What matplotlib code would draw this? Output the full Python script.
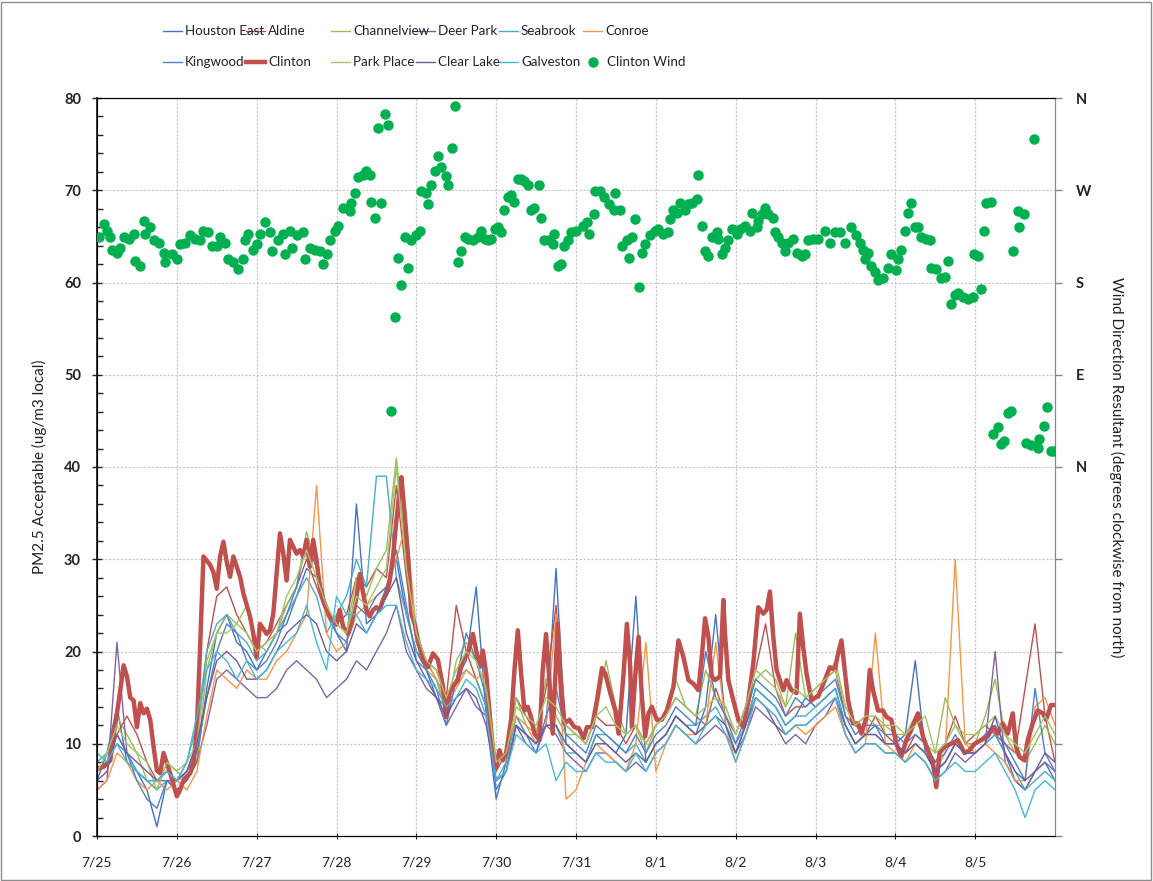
import matplotlib
matplotlib.use("Agg")
import matplotlib.pyplot as plt
from matplotlib.lines import Line2D
from matplotlib.patches import Rectangle

plt.rcParams['font.family'] = ['Lato', 'DejaVu Sans']

W, H = 1153, 881

# ---------------- data ----------------
DAY_LABELS = ['7/25', '7/26', '7/27', '7/28', '7/29', '7/30', '7/31',
              '8/1', '8/2', '8/3', '8/4', '8/5']
DAY_HOURS = [0, 24, 48, 72, 96, 120, 144, 168, 192, 216, 240, 264]

# 3-hourly readings (hours since 7/25 00:00)
HOURS3 = list(range(0, 289, 3))

houston_east = [6, 9, 14, 8, 7, 5, 1, 6,
                5, 6, 8, 16, 22, 24, 21, 20,
                18, 20, 22, 23, 26, 29, 28, 24,
                22, 20, 36, 23, 24, 27, 30, 24,
                20, 18, 15, 14, 17, 19, 27, 13,
                4, 8, 13, 11, 10, 12, 29, 10,
                9, 8, 11, 10, 9, 11, 26, 8,
                10, 11, 13, 12, 11, 14, 24, 12,
                9, 12, 16, 15, 14, 12, 13, 15,
                14, 15, 16, 12, 10, 11, 12, 10,
                10, 11, 19, 9, 7, 8, 10, 9,
                9, 10, 11, 9, 6, 5, 7, 8,
                6]
aldine = [7, 8, 11, 13, 11, 8, 6, 7,
          6, 7, 10, 20, 26, 27, 24, 22,
          20, 21, 23, 25, 27, 30, 27, 24,
          23, 24, 28, 27, 29, 28, 38, 28,
          21, 19, 18, 15, 25, 20, 17, 14,
          7, 9, 15, 13, 11, 16, 25, 12,
          11, 10, 13, 12, 12, 10, 12, 10,
          12, 13, 15, 14, 13, 12, 16, 13,
          11, 14, 18, 23, 16, 13, 14, 14,
          15, 17, 18, 13, 12, 11, 13, 11,
          10, 9, 11, 10, 8, 10, 13, 10,
          11, 12, 11, 10, 9, 16, 23, 13,
          8]
channelview = [7, 8, 13, 11, 9, 6, 5, 8,
               7, 6, 8, 18, 22, 24, 23, 25,
               21, 20, 22, 25, 27, 33, 29, 24,
               23, 22, 28, 26, 29, 31, 41, 30,
               21, 18, 17, 13, 19, 21, 19, 16,
               8, 9, 15, 12, 11, 17, 13, 11,
               11, 10, 13, 19, 14, 11, 12, 9,
               12, 13, 17, 14, 13, 18, 15, 14,
               11, 14, 17, 18, 17, 14, 22, 15,
               16, 17, 19, 14, 12, 13, 12, 12,
               11, 11, 13, 10, 9, 15, 12, 10,
               10, 13, 17, 11, 9, 8, 10, 12,
               10]
deer_park = [5, 6, 21, 9, 7, 6, 6, 6,
             5, 6, 8, 12, 17, 18, 17, 16,
             15, 15, 16, 18, 19, 18, 17, 15,
             16, 17, 19, 18, 20, 22, 25, 20,
             18, 16, 15, 12, 14, 16, 14, 13,
             6, 7, 12, 10, 9, 12, 11, 9,
             8, 7, 9, 9, 8, 7, 8, 7,
             9, 10, 12, 11, 10, 11, 12, 11,
             9, 11, 14, 13, 12, 10, 11, 10,
             12, 13, 15, 11, 9, 10, 10, 9,
             9, 8, 9, 8, 6, 7, 9, 8,
             9, 10, 20, 8, 6, 5, 7, 8,
             7]
seabrook = [8, 9, 11, 9, 7, 6, 5, 6,
            6, 8, 12, 20, 23, 24, 22, 21,
            19, 20, 22, 24, 26, 28, 26, 22,
            24, 26, 30, 27, 39, 39, 28, 24,
            20, 19, 17, 15, 17, 18, 17, 14,
            6, 8, 13, 11, 10, 12, 12, 9,
            9, 8, 11, 11, 10, 9, 10, 8,
            10, 11, 13, 12, 12, 13, 14, 12,
            10, 12, 16, 15, 14, 12, 13, 13,
            14, 15, 16, 12, 10, 11, 11, 10,
            10, 9, 10, 9, 7, 8, 10, 9,
            9, 10, 11, 9, 7, 5, 6, 7,
            6]
conroe = [5, 6, 9, 8, 6, 5, 6, 5,
          6, 5, 7, 13, 18, 17, 16, 18,
          17, 17, 19, 20, 22, 24, 38, 22,
          20, 21, 24, 25, 26, 27, 30, 34,
          22, 19, 17, 14, 16, 18, 17, 18,
          8, 9, 13, 12, 10, 12, 24, 4,
          5, 8, 10, 9, 8, 7, 10, 21,
          7, 10, 12, 11, 11, 12, 21, 12,
          8, 11, 15, 14, 13, 11, 12, 11,
          12, 13, 14, 11, 9, 10, 22, 10,
          9, 8, 10, 9, 7, 9, 30, 10,
          9, 10, 9, 8, 6, 6, 14, 15,
          12]
kingwood = [7, 8, 10, 9, 6, 4, 3, 6,
            6, 7, 9, 15, 20, 23, 22, 19,
            18, 19, 21, 24, 27, 32, 29, 25,
            22, 21, 25, 24, 26, 27, 31, 25,
            19, 18, 16, 12, 17, 22, 19, 15,
            5, 7, 12, 11, 9, 13, 16, 11,
            10, 9, 12, 11, 10, 9, 11, 9,
            11, 12, 14, 13, 12, 20, 15, 13,
            10, 13, 17, 16, 15, 13, 15, 14,
            15, 16, 17, 13, 11, 12, 12, 11,
            11, 10, 11, 10, 8, 9, 11, 9,
            10, 11, 12, 10, 8, 6, 16, 9,
            7]
park_place = [7, 9, 12, 10, 9, 8, 5, 8,
              7, 8, 10, 19, 22, 22, 23, 22,
              20, 21, 22, 26, 28, 31, 28, 25,
              23, 22, 26, 25, 27, 29, 40, 29,
              22, 19, 18, 15, 18, 20, 19, 16,
              8, 9, 14, 13, 12, 15, 14, 12,
              11, 10, 13, 14, 12, 11, 12, 10,
              12, 13, 15, 14, 13, 14, 15, 14,
              11, 14, 18, 17, 16, 14, 16, 15,
              16, 17, 18, 14, 12, 13, 13, 12,
              12, 11, 12, 13, 9, 10, 12, 11,
              11, 12, 13, 11, 10, 9, 11, 13,
              11]
clear_lake = [6, 7, 11, 9, 8, 7, 6, 7,
              6, 7, 10, 15, 19, 20, 19, 17,
              17, 18, 20, 22, 23, 24, 23, 20,
              19, 20, 23, 22, 24, 26, 28, 22,
              19, 17, 15, 13, 15, 16, 15, 12,
              6, 7, 12, 11, 10, 12, 12, 10,
              9, 8, 10, 10, 9, 8, 9, 8,
              10, 11, 13, 12, 11, 12, 13, 12,
              9, 12, 15, 14, 12, 11, 12, 12,
              13, 14, 15, 12, 10, 11, 11, 10,
              10, 9, 10, 9, 7, 8, 10, 9,
              9, 10, 13, 9, 7, 6, 7, 9,
              8]
galveston = [9, 8, 10, 8, 7, 6, 6, 7,
             6, 8, 13, 18, 20, 19, 17, 19,
             17, 18, 20, 21, 22, 25, 21, 18,
             26, 24, 24, 22, 24, 25, 25, 21,
             18, 17, 16, 14, 15, 17, 16, 13,
             6, 7, 11, 10, 9, 10, 6, 8,
             7, 7, 9, 8, 8, 7, 9, 7,
             9, 10, 12, 11, 10, 12, 13, 11,
             8, 11, 15, 14, 13, 11, 12, 12,
             13, 14, 15, 11, 9, 10, 10, 9,
             9, 8, 9, 8, 6, 7, 8, 7,
             7, 8, 9, 7, 5, 2, 5, 6,
             5]

# Clinton PM2.5, read at irregular hours
clinton_hours = [0, 2, 4, 5, 6, 7, 8, 9, 10, 11, 12, 13, 14, 15, 16, 17, 18, 19, 20, 21,
                 22, 24, 25, 26, 28, 29, 30, 31, 32, 34, 35, 36, 37, 38, 39, 40, 41, 43,
                 44, 46, 47, 48, 49, 51, 52, 53, 54, 55, 56, 57, 58, 60, 61, 62, 63, 64,
                 65, 66, 67, 68, 70,
                 72, 73, 74, 75.5, 76.5, 78, 79, 80, 81, 82, 83, 84, 85, 86, 87, 88, 89,
                 90, 91, 91.5, 92.5, 93.5, 94, 94.5, 95.5, 96.5, 98, 99.5, 101, 102.5,
                 104, 105, 106, 107, 108.5, 110, 111.5, 113, 114, 115, 116, 117, 118,
                 119, 120, 121, 122, 123, 124.5, 125.5, 126.5, 127.5, 128.5, 129.5,
                 130.5, 131.5, 133, 134, 135, 136, 137, 138.5, 139.5, 140.5, 142, 143.5,
                 144.8, 146.3, 147.3, 148.8, 150.3, 151.8, 152.8, 154.3, 155.8, 156.8,
                 158.3, 159.3, 160.3, 160.8, 161.8, 162.8, 163.8, 164.8, 165.8, 166.8,
                 168.3, 169.8, 171.3, 173.3, 174.8, 176.3, 177.8, 179.3, 180.8, 181.8,
                 182.8, 183.8, 184.8, 185.8, 187.3, 188.3, 188.8, 189.8, 191.3, 192.8,
                 194.3, 195.8, 197.3, 198.8, 200.3, 201.3, 202.3, 203.3, 204.3, 205.3,
                 206.3, 207.3, 208.8, 210.3, 211.3, 212.3, 213.3, 214.8, 216.3,
                 216.8, 218.8, 220.3, 221.8, 222.8, 223.8, 224.8, 225.8, 227.3, 228.8,
                 229.8, 231.3, 232.3, 233.3, 234.8, 236.3, 237.3, 238.8, 240.3, 241.8,
                 243.3, 244.8, 246.8, 248.3, 249.8, 251.3, 252.3, 253.3, 254.8, 256.8,
                 258.8, 260.8, 262.3, 263.8, 265.8, 267.8, 269.3, 270.8, 272.3, 273.8,
                 275.3, 276.3, 277.3, 278.8, 279.8, 281.3, 282.8, 284.3, 285.3, 286.8,
                 287.8]
clinton_pm = [7.3, 7.5, 8.2, 11, 13.3, 15.8, 18.5, 17.3, 15, 14.7, 11.8, 14.4, 13.3, 13.8,
              12.6, 9.7, 7.1, 6.8, 9, 7.9, 6.8, 4.3, 5, 6.1, 6.8, 7.9, 11.5, 20.5, 30.3,
              29.4, 28.6, 26.8, 30.3, 31.9, 29.7, 28.1, 30.3, 28.1, 26.3, 23.8, 21.9,
              19.4, 23, 21.9, 22.3, 24.1, 28.4, 32.8, 30.6, 27.7, 32.1, 30.6, 31, 30.3,
              32.1, 29.2, 32.1, 29.9, 27, 25.6, 23.8,
              22.9, 24.5, 22.7, 21.9, 23, 25.9, 28.4, 26.3, 24.5, 23.8, 24.5, 24.8,
              24.5, 25.6, 26.3, 27.7, 30.3, 34.2, 37.5, 38.9, 34.9, 30.3, 27, 24.1, 23,
              21.2, 19.1, 18.3, 19.8, 19.1, 16.2, 12.9, 15.5, 16.2, 16.9, 19.1, 19.8,
              21.9, 20.1, 18.3, 20.1, 17.6, 13.3, 9, 7.5, 9.3, 8.2, 9, 12.6, 18, 22.3,
              17.6, 13.6, 14, 12.9, 11.1, 10.4, 18, 21.9, 16.9, 11.1, 23, 15.5, 12.2,
              12.6, 11.8,
              11.7, 10.6, 11.8, 11.8, 14.7, 18.2, 17.6, 15.5, 13.6, 11.1, 17.6, 23,
              18.3, 11.8, 17.3, 21.6, 15.1, 10.8, 13.3, 14, 12.6, 12.6, 13.6, 16.2,
              21.2, 19.4, 16.9, 16.5, 15.8, 19.4, 23.6, 21.6, 17.3, 16.9, 17.3, 25.6,
              21.9, 16.9, 14.7, 12.6, 11.8, 14.7, 18.7, 24.8, 24.1, 24.5, 26.5, 21.6,
              18, 16.9, 15.8, 16.9, 15.8, 15.5, 24.1, 20.5, 17.6, 14.7, 15.1,
              15.1, 16.9, 18.3, 18, 19.8, 21.2, 18, 14.7, 12.2, 12.2, 11.1, 12.9, 18,
              15.8, 13.6, 13.6, 12.9, 12.6, 10, 8.6, 10.4, 11.5, 13.3, 10.8, 9.3, 7.9,
              5.3, 9, 9.7, 10, 10.4, 9, 9.3, 10, 10.4, 10.8, 11.8, 11.1, 12.2, 11.1,
              13.3, 9.7, 8.6, 8.2, 10.4, 12.2, 13.6, 13.3, 12.6, 14.2, 14.2]

# Clinton wind direction resultant (degrees clockwise from north)
wind_hours = [0.5, 2, 3, 4, 4.5, 6, 7, 8, 9.5, 11, 11.5, 13, 14, 14.5, 16, 17, 18.5, 20,
              20.5, 22.5, 24, 25, 26.5, 28, 29.5, 31, 32, 33.5, 34.5, 36, 37, 38.5, 39.5,
              41, 42.5, 44, 44.5, 45.5, 47, 48, 49, 50.5, 52, 52.5, 54.5, 56, 56.5, 58,
              58.5, 60, 62, 62.5, 64, 65.5, 67, 68, 69, 70, 71.5, 72.5,
              74, 76, 76.5, 77.5, 78.5, 80, 81, 82, 82.5, 83.5, 84.5, 85.5, 86.5, 87.5,
              88.5, 89.5, 90.5, 91.5, 92.5, 93.5, 94.5, 96, 97, 97.5, 99, 99.5, 100.5,
              101.5, 102.5, 103.5, 105, 105.5, 106.7, 107.5, 108.5, 109.5, 110.5, 111.5,
              113, 114.5, 115.5, 116.5, 117.5, 118.5, 119.5, 120.5, 121.5, 122.5, 123.5,
              124.5, 125.5, 126.5, 127.5, 128.5, 129.5, 130.5, 131.5, 133, 133.5, 134.5,
              136, 137, 137.5, 138.5, 139.5, 140.5, 141.5, 142.5, 144, 146, 147.3, 147.8,
              149.3, 149.8, 151.3, 152.3, 153.8, 155.3, 155.8, 157.3, 157.8, 159.3, 159.8,
              160.8, 161.8, 162.8, 163.8, 164.8, 166.3, 167.8, 168.8, 170.3, 171.8, 172.3,
              173.3, 174.3, 175.3, 176.8, 177.8, 178.8, 180.3, 180.6, 181.8, 182.8, 183.8,
              184.8, 186.3, 186.8, 187.8, 188.8, 189.8, 190.8, 192.3, 193.3, 194.8, 196.3,
              196.8, 198.3, 198.8, 199.8, 200.8, 201.8, 203.3, 203.8, 204.8, 205.8, 206.8,
              207.8, 209.3, 210.3, 211.8, 212.8, 213.8, 215.3, 216.8, 218.8, 220.3, 221.8,
              223.3, 224.8, 226.8, 228.3, 229.3, 230.3, 230.8, 231.8, 232.8, 233.8, 234.8,
              236.3, 237.8, 238.8, 240.3, 240.8, 241.8, 242.8, 243.8, 244.6, 245.8, 246.8,
              247.8, 249.3, 250.3, 250.8, 252.3, 253.8, 254.8, 255.8, 256.8, 257.8, 258.8,
              260.3, 261.8, 263.3, 263.5, 264.8, 265.8, 266.8, 267.3, 268.8, 269.3, 270.8,
              271.8, 272.8, 273.8, 274.8, 275.3, 276.8, 277.3, 278.8, 279.3, 280.8, 281.6,
              282.8, 283.3, 284.8, 285.6, 286.8, 287.8]
wind_deg = [224, 237, 230, 224, 212, 209, 214, 224, 222, 227, 201, 196, 240, 227, 234, 221,
            219, 209, 200, 208, 203, 218, 219, 226, 222, 221, 230, 229, 216, 216, 224, 219,
            203, 200, 193, 203, 221, 227, 212, 218, 227, 239, 229, 211, 221, 227, 208, 230,
            214, 226, 229, 203, 214, 212, 211, 198, 208, 221, 230, 235,
            253, 250, 258, 267, 283, 285, 289, 285, 259, 243, 331, 258, 344, 334,
            55, 146, 204, 178, 224, 194, 221, 226, 230, 269, 267, 257, 275,
            289, 303, 293, 284, 275, 311, 352, 200, 211, 224, 222,
            221, 224, 230, 222, 221, 222, 232, 234, 229, 251, 263,
            265, 259, 281, 281, 279, 275, 251, 253, 275, 243, 221,
            221, 218, 227, 196, 198, 216, 221, 229, 230, 235, 239, 227,
            247, 269, 269, 263, 257, 251, 267, 251, 216, 221, 204,
            224, 242, 176, 209, 218, 226, 230, 232, 227, 229, 242,
            251, 248, 258, 251, 257, 258, 261, 285, 235, 211, 206,
            224, 229, 222, 208, 214, 221, 232, 227, 232, 235, 230,
            248, 234, 240, 247, 253, 247, 243, 229, 224, 219, 211,
            219, 222, 209, 206, 208, 221, 222, 222, 230, 219, 229,
            229, 219, 234, 226, 219, 212, 203, 209, 196, 190, 182,
            184, 194, 208, 192, 203, 212, 230, 248, 258, 234, 234,
            224, 222, 221, 194, 193, 184, 185, 201, 159, 168, 170,
            166, 164, 166, 208, 206, 174, 230, 258, 259, 32, 39,
            22, 25, 53, 55, 211, 250, 234, 247, 23, 21, 320,
            19, 27, 40, 59, 16, 16]

SERIES = [
    ('Houston East', houston_east, '#4472C4'),
    ('Aldine', aldine, '#C0504D'),
    ('Channelview', channelview, '#9BBB59'),
    ('Deer Park', deer_park, '#8064A2'),
    ('Seabrook', seabrook, '#4BACC6'),
    ('Conroe', conroe, '#F79646'),
    ('Kingwood', kingwood, '#4F7FC8'),
    ('Park Place', park_place, '#A5C46A'),
    ('Clear Lake', clear_lake, '#6F5A9C'),
    ('Galveston', galveston, '#45B8D8'),
]
CLINTON_COLOR = '#C0504D'
WIND_COLOR = '#00B050'
TXT = '#222222'

# ---------------- figure ----------------
fig = plt.figure(figsize=(W / 100, H / 100), dpi=100)
fig.patch.set_facecolor('white')
ax = fig.add_axes([97 / W, 1 - 836 / H, (1055 - 97) / W, (836 - 98) / H])

handles = {}
for name, vals, col in SERIES[:7]:
    handles[name], = ax.plot(HOURS3, vals, color=col, lw=1.0, zorder=2)
handles['Clinton'], = ax.plot(clinton_hours, clinton_pm, color=CLINTON_COLOR, lw=3.2,
                              zorder=3, solid_joinstyle='round')
for name, vals, col in SERIES[7:]:
    handles[name], = ax.plot(HOURS3, vals, color=col, lw=1.0, zorder=4)

ax.set_xlim(0, 288)
ax.set_ylim(0, 80)
ax.set_yticks(range(0, 81, 10))
ax.set_yticks(range(0, 81, 2), minor=True)
ax.set_xticks(DAY_HOURS)
ax.set_xticklabels(DAY_LABELS)
ax.grid(True, which='major', color='#c4c4c4', linestyle=(0, (2, 1.5)), lw=0.8)
ax.set_axisbelow(True)
ax.tick_params(axis='y', which='major', direction='inout', length=7, width=1,
               labelsize=10.5, pad=8, colors=TXT)
ax.tick_params(axis='y', which='minor', direction='in', length=4, width=1, color=TXT)
ax.tick_params(axis='x', which='major', direction='inout', length=5, width=0.8,
               labelsize=10, pad=12, colors=TXT)
for lbl in ax.get_yticklabels():
    lbl.set_fontweight('bold')
for s in ('left', 'bottom', 'top'):
    ax.spines[s].set_color(TXT)
ax.spines['left'].set_linewidth(1.3)
ax.spines['right'].set_color('#888888')
ax.set_ylabel('PM2.5 Acceptable (ug/m3 local)', fontsize=11, color=TXT, labelpad=12)

ax2 = ax.twinx()
ax2.plot(wind_hours, wind_deg, 'o', color=WIND_COLOR, ms=6.5, mec=WIND_COLOR, zorder=5)
ax2.set_ylim(-360, 360)
ax2.set_yticks([-360, -270, -180, -90, 0, 90, 180, 270, 360])
ax2.set_yticklabels(['', '', '', '', 'N', 'E', 'S', 'W', 'N'])
ax2.tick_params(axis='y', direction='out', length=5, width=1, color='#888888',
                labelsize=10.5, pad=10, labelcolor=TXT)
for lbl in ax2.get_yticklabels():
    lbl.set_fontweight('bold')
ax2.spines['right'].set_color('#888888')
ax2.set_ylabel('Wind Direction Resultant (degrees clockwise from north)', fontsize=11,
               color=TXT, rotation=270, labelpad=24)

# ---------------- legend (Excel style fixed columns) ----------------
rows = [['Houston East', 'Aldine', 'Channelview', 'Deer Park', 'Seabrook', 'Conroe'],
        ['Kingwood', 'Clinton', 'Park Place', 'Clear Lake', 'Galveston', 'Clinton Wind']]
col_x = [163, 246, 331, 416, 499, 583]
row_y = [31, 62]
for r, names in enumerate(rows):
    y = 1 - row_y[r] / H
    for c, name in enumerate(names):
        x0 = col_x[c]
        if name == 'Clinton Wind':
            fig.add_artist(Line2D([(x0 + 10) / W], [y], marker='o', ms=6.5,
                                  color=WIND_COLOR, lw=0))
            tx = x0 + 24
        else:
            h = handles[name]
            fig.add_artist(Line2D([x0 / W, (x0 + 19) / W], [y, y],
                                  color=h.get_color(), lw=h.get_linewidth()))
            tx = x0 + 22
        fig.text(tx / W, y, name, fontsize=9.6, va='center', ha='left', color=TXT)

fig.add_artist(Rectangle((1 / W, 1 / H), 1 - 3 / W, 1 - 3 / H, transform=fig.transFigure,
                         fill=False, edgecolor='#8c8c8c', lw=1))

fig.savefig('out.png', dpi=100)
